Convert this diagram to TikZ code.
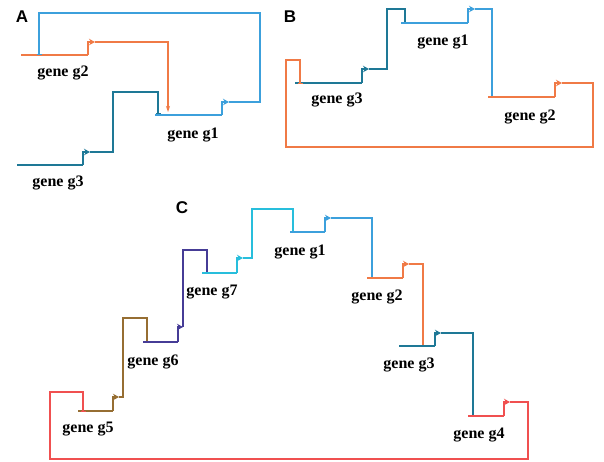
\documentclass[tikz,border=0pt]{standalone}
\usepackage{fontspec}
\setmainfont{Liberation Serif}
\setsansfont{Liberation Sans}
\usetikzlibrary{arrows.meta}
\definecolor{corange}{RGB}{240,122,70}
\definecolor{cblue}{RGB}{60,160,220}
\definecolor{cteal}{RGB}{30,120,150}
\definecolor{cbrown}{RGB}{150,110,50}
\definecolor{cpurple}{RGB}{70,60,150}
\definecolor{ccyan}{RGB}{40,190,220}
\definecolor{cred}{RGB}{240,80,80}
\tikzset{
  geneline/.style={line width=2.6pt},
  link/.style={line width=1.2pt},
  prom/.style={line width=1.8pt,-{Stealth[length=6pt,width=6.5pt]}},
  act/.style={line width=1.2pt,-{Stealth[length=6pt,width=4pt]}},
  rep/.style={line width=1.2pt,-{Bar[width=5pt,line width=1.2pt]}},
  lbl/.style={font=\fontsize{16}{18}\bfseries\selectfont,inner sep=0pt},
  panel/.style={font=\fontsize{17}{19}\sffamily\bfseries\selectfont,inner sep=0pt}
}
\begin{document}
\begin{tikzpicture}[x=1pt,y=-1pt]
\useasboundingbox (0,0) rectangle (604,461);
% ---------------- Panel A
\node[panel] (pA) at (22,17) {A};
\coordinate (A2s) at (21,55);  \coordinate (A2e) at (88,55);
\coordinate (A2p) at (95,42);
\coordinate (A1s) at (155,115); \coordinate (A1e) at (222,115);
\coordinate (A1p) at (229,102);
\coordinate (A3s) at (17,165); \coordinate (A3e) at (83,165);
\coordinate (A3p) at (90,152);
\coordinate (A2t) at (168,112); \coordinate (A1t) at (39,55); \coordinate (A3t) at (158,114);
% g2
\draw[geneline,corange] (A2s) -- (A2e);
\draw[prom,corange] (A2e) |- (A2p);
\draw[act,corange] (A2p) -- (168,42) -- (A2t);
% g1
\draw[geneline,cblue] (A1s) -- (A1e);
\draw[prom,cblue] (A1e) |- (A1p);
\draw[rep,cblue] (A1p) -- (260,102) -- (260,13) -- (39,13) -- (A1t);
% g3
\draw[geneline,cteal] (A3s) -- (A3e);
\draw[prom,cteal] (A3e) |- (A3p);
\draw[rep,cteal] (A3p) -- (113,152) -- (113,92) -- (158,92) -- (A3t);
\node[lbl] (lA2) at (63,73) {gene g2};
\node[lbl] (lA1) at (193,135) {gene g1};
\node[lbl] (lA3) at (58,183) {gene g3};
% ---------------- Panel B
\node[panel] (pB) at (290,17) {B};
\coordinate (B3s) at (295,83); \coordinate (B3e) at (362,83); \coordinate (B3p) at (369,69);
\coordinate (B1s) at (401,23); \coordinate (B1e) at (468,23); \coordinate (B1p) at (475,9);
\coordinate (B2s) at (488,97); \coordinate (B2e) at (555,97); \coordinate (B2p) at (562,83);
\coordinate (B3t) at (405,24); \coordinate (B1t) at (492,98); \coordinate (B2t) at (300,84);
\draw[geneline,cteal] (B3s) -- (B3e);
\draw[prom,cteal] (B3e) |- (B3p);
\draw[rep,cteal] (B3p) -- (387,69) -- (387,9) -- (405,9) -- (B3t);
\draw[geneline,cblue] (B1s) -- (B1e);
\draw[prom,cblue] (B1e) |- (B1p);
\draw[rep,cblue] (B1p) -- (492,9) -- (B1t);
\draw[geneline,corange] (B2s) -- (B2e);
\draw[prom,corange] (B2e) |- (B2p);
\draw[rep,corange] (B2p) -- (593,83) -- (593,147) -- (286,147) -- (286,60) -- (300,60) -- (B2t);
\node[lbl] (lB1) at (443,42) {gene g1};
\node[lbl] (lB3) at (337,100) {gene g3};
\node[lbl] (lB2) at (530,117) {gene g2};
% ---------------- Panel C
\node[panel] (pC) at (182,208) {C};
% g5
\coordinate (C5s) at (78,411); \coordinate (C5e) at (113,411); \coordinate (C5p) at (119,397);
\draw[geneline,cbrown] (C5s) -- (C5e);
\draw[prom,cbrown] (C5e) |- (C5p);
\draw[rep,cbrown] (C5p) -- (123,397) -- (123,318) -- (147,318) -- (147,343);
% g6
\coordinate (C6s) at (143,342); \coordinate (C6e) at (178,342); \coordinate (C6p) at (183,327);
\draw[geneline,cpurple] (C6s) -- (C6e);
\draw[prom,cpurple] (C6e) |- (C6p);
\draw[rep,cpurple] (C6p) -- (183,250) -- (207,250) -- (207,274);
% g7
\coordinate (C7s) at (202,273); \coordinate (C7e) at (237,273); \coordinate (C7p) at (243,258);
\draw[geneline,ccyan] (C7s) -- (C7e);
\draw[prom,ccyan] (C7e) |- (C7p);
\draw[rep,ccyan] (C7p) -- (252,258) -- (252,209) -- (293,209) -- (293,233);
% g1
\coordinate (C1s) at (290,232); \coordinate (C1e) at (325,232); \coordinate (C1p) at (331,218);
\draw[geneline,cblue] (C1s) -- (C1e);
\draw[prom,cblue] (C1e) |- (C1p);
\draw[rep,cblue] (C1p) -- (372,218) -- (372,279);
% g2
\coordinate (C2s) at (367,278); \coordinate (C2e) at (403,278); \coordinate (C2p) at (409,264);
\draw[geneline,corange] (C2s) -- (C2e);
\draw[prom,corange] (C2e) |- (C2p);
\draw[rep,corange] (C2p) -- (423,264) -- (423,347);
% g3
\coordinate (C3s) at (399,346); \coordinate (C3e) at (435,346); \coordinate (C3p) at (441,333);
\draw[geneline,cteal] (C3s) -- (C3e);
\draw[prom,cteal] (C3e) |- (C3p);
\draw[rep,cteal] (C3p) -- (473,333) -- (473,417);
% g4
\coordinate (C4s) at (468,416); \coordinate (C4e) at (504,416); \coordinate (C4p) at (510,402);
\draw[geneline,cred] (C4s) -- (C4e);
\draw[prom,cred] (C4e) |- (C4p);
\draw[rep,cred] (C4p) -- (528,402) -- (528,459) -- (50,459) -- (50,392) -- (83,392) -- (83,412);
\node[lbl] (lC5) at (88,429) {gene g5};
\node[lbl] (lC6) at (153,362) {gene g6};
\node[lbl] (lC7) at (212,292) {gene g7};
\node[lbl] (lC1) at (300,252) {gene g1};
\node[lbl] (lC2) at (377,297) {gene g2};
\node[lbl] (lC3) at (409,365) {gene g3};
\node[lbl] (lC4) at (479,435) {gene g4};
\end{tikzpicture}
\end{document}
